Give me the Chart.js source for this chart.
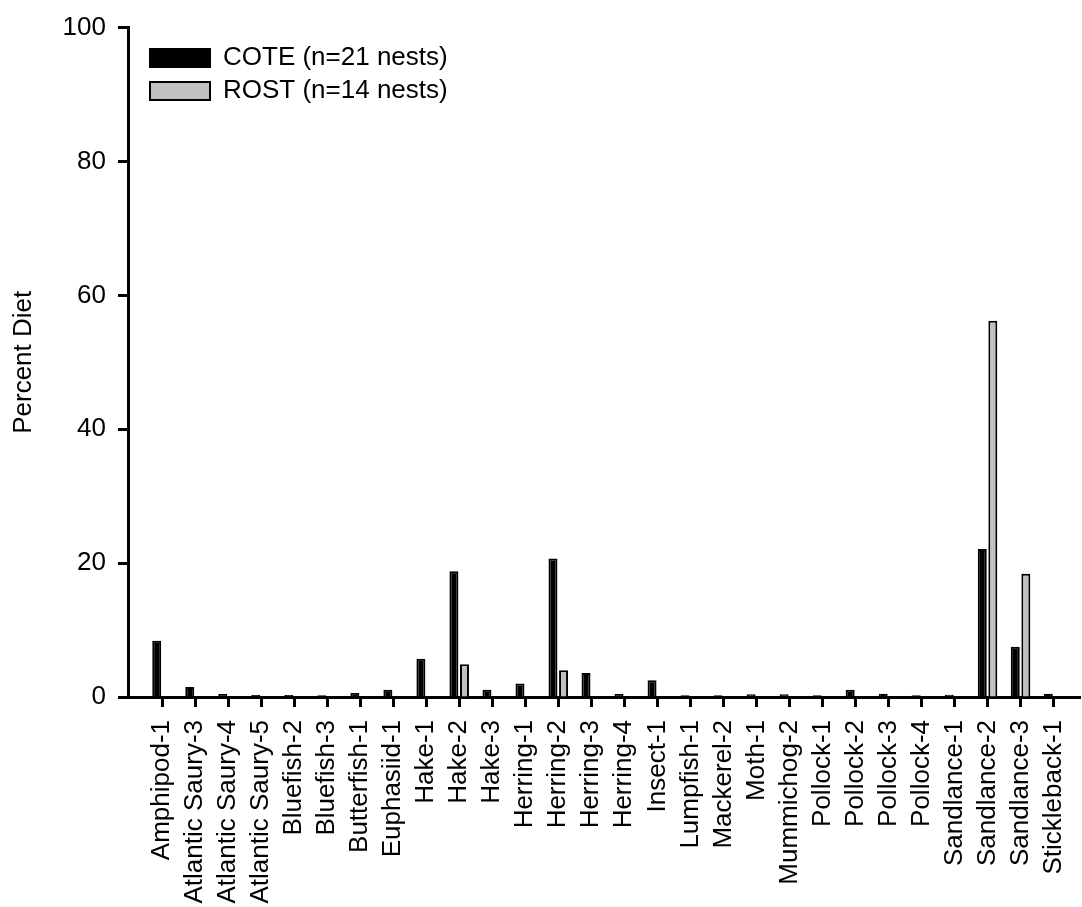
<!DOCTYPE html>
<html lang="en">
<head>
    <meta charset="UTF-8">
    <title>Percent Diet</title>
    <style>
        body {
            margin: 0;
            background: #fff;
        }
        .chart-box {
            width: 1082px;
            height: 907px;
        }
    </style>
</head>
<body>
    <div class="chart-box">
        <canvas id="dietChart" width="1082" height="907"></canvas>
    </div>

    <script src="https://cdn.jsdelivr.net/npm/chart.js"></script>
    <script>
        // prey categories (x axis)
        const categories = [
            'Amphipod-1', 'Atlantic Saury-3', 'Atlantic Saury-4', 'Atlantic Saury-5',
            'Bluefish-2', 'Bluefish-3', 'Butterfish-1', 'Euphasiid-1',
            'Hake-1', 'Hake-2', 'Hake-3', 'Herring-1', 'Herring-2', 'Herring-3', 'Herring-4',
            'Insect-1', 'Lumpfish-1', 'Mackerel-2', 'Moth-1', 'Mummichog-2',
            'Pollock-1', 'Pollock-2', 'Pollock-3', 'Pollock-4',
            'Sandlance-1', 'Sandlance-2', 'Sandlance-3', 'Stickleback-1'
        ];

        // percent diet
        const coteValues = [
            8.4, 1.5, 0.45, 0.3,
            0.3, 0.25, 0.6, 1.1,
            5.7, 18.8, 1.1, 2.0, 20.7, 3.6, 0.45,
            2.5, 0.25, 0.25, 0.4, 0.4,
            0.25, 1.1, 0.5, 0.25,
            0.35, 22.1, 7.5, 0.5
        ];
        const rostValues = [
            0, 0, 0, 0,
            0, 0, 0, 0,
            0, 4.9, 0, 0, 4.0, 0, 0,
            0, 0, 0, 0, 0,
            0, 0, 0, 0,
            0, 56.2, 18.4, 0
        ];

        const yTicks = [0, 20, 40, 60, 80, 100];

        const labelFont = { family: 'Arial, "Liberation Sans", sans-serif', size: 26 };

        // 凡例を枠の内側に少しずらす
        const legendShift = {
            id: 'legendShift',
            afterLayout(chart) {
                chart.legend.left += 15;
                chart.legend.top += 38;
            }
        };

        const ctx = document.getElementById('dietChart').getContext('2d');
        const dietChart = new Chart(ctx, {
            type: 'bar',
            data: {
                datasets: [
                    {
                        label: 'COTE (n=21 nests)',
                        data: coteValues.map((v, i) => ({ x: i, y: v })),
                        backgroundColor: '#000000',
                        borderColor: '#000000',
                        borderWidth: 2,
                        categoryPercentage: 0.64,
                        barPercentage: 0.85
                    },
                    {
                        label: 'ROST (n=14 nests)',
                        data: rostValues.map((v, i) => ({ x: i, y: v })),
                        backgroundColor: '#c0c0c0',
                        borderColor: '#000000',
                        borderWidth: 2,
                        categoryPercentage: 0.64,
                        barPercentage: 0.85
                    }
                ]
            },
            options: {
                responsive: false,
                animation: false,
                layout: {
                    padding: { top: 25, right: 2, left: 0, bottom: 0 }
                },
                plugins: {
                    legend: {
                        position: 'chartArea',
                        align: 'start',
                        labels: {
                            boxWidth: 60,
                            boxHeight: 18,
                            padding: 7,
                            color: '#000',
                            font: labelFont
                        }
                    },
                    tooltip: { enabled: false }
                },
                scales: {
                    x: {
                        type: 'linear',
                        min: -1.03,
                        max: 27.8,
                        offset: false,
                        afterBuildTicks: (scale) => {
                            scale.ticks = categories.map((c, i) => ({ value: i }));
                        },
                        afterFit: (scale) => {
                            scale.height = 210;
                            scale.paddingLeft = 0;
                            scale.paddingRight = 0;
                        },
                        ticks: {
                            autoSkip: false,
                            minRotation: 90,
                            maxRotation: 90,
                            padding: 13,
                            color: '#000',
                            font: labelFont,
                            callback: (value) => categories[value]
                        },
                        grid: {
                            offset: false,
                            drawOnChartArea: false,
                            tickLength: 10,
                            tickWidth: 3,
                            tickColor: '#000'
                        },
                        border: { color: '#000', width: 3 }
                    },
                    y: {
                        min: 0,
                        max: 100,
                        afterBuildTicks: (scale) => {
                            scale.ticks = yTicks.map(v => ({ value: v }));
                        },
                        afterFit: (scale) => {
                            scale.width = 128;
                        },
                        ticks: {
                            padding: 12,
                            color: '#000',
                            font: labelFont
                        },
                        grid: {
                            drawOnChartArea: false,
                            tickLength: 10,
                            tickWidth: 3,
                            tickColor: '#000'
                        },
                        border: { color: '#000', width: 3 },
                        title: {
                            display: true,
                            text: 'Percent Diet',
                            color: '#000',
                            font: labelFont,
                            padding: { top: 8, bottom: 0 }
                        }
                    }
                }
            },
            plugins: [legendShift]
        });
    </script>
</body>
</html>
